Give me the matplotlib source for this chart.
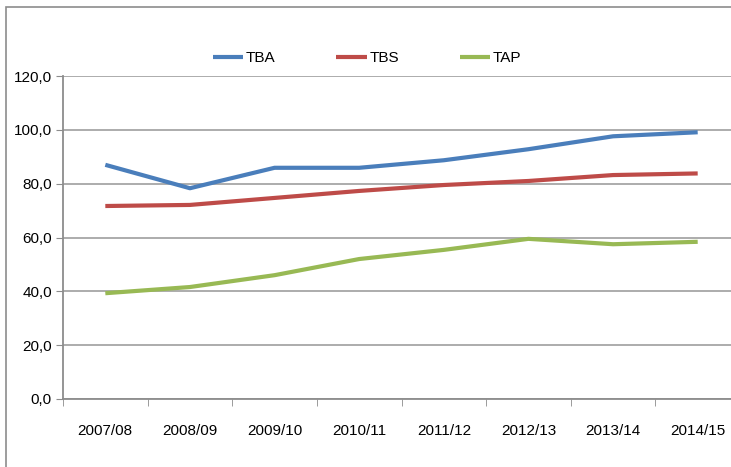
import matplotlib
matplotlib.use('Agg')
import matplotlib.pyplot as plt
from matplotlib.patches import Rectangle

plt.rcParams['font.family'] = ['Liberation Sans', 'DejaVu Sans']
plt.rcParams['font.size'] = 11

# Data
years = ['2007/08', '2008/09', '2009/10', '2010/11', '2011/12', '2012/13', '2013/14', '2014/15']
tba = [87.0, 78.3, 85.9, 85.9, 88.7, 92.8, 97.6, 99.1]
tbs = [71.7, 72.1, 74.7, 77.3, 79.5, 81.0, 83.2, 83.8]
tap = [39.3, 41.6, 46.0, 52.0, 55.4, 59.5, 57.5, 58.4]

W, H = 731, 467
fig = plt.figure(figsize=(W / 100, H / 100), dpi=100)

# plot area: x 63..740 px (cropped at right), y 76..399 px
left, right, top, bottom = 63, 740, 76, 399
ax = fig.add_axes([left / W, 1 - bottom / H, (right - left) / W, (bottom - top) / H])

# outer chart border (only left and top visible in the crop)
fig.patches.append(Rectangle((6 / W, -0.1), 1.2, 1 - 7 / H + 0.1, transform=fig.transFigure,
                             fill=False, edgecolor='#8c8c8c', linewidth=1.2, zorder=0))

x = list(range(len(years)))
ax.plot(x, tba, color='#4a7ebb', lw=3, label='TBA', solid_capstyle='butt')
ax.plot(x, tbs, color='#be4b48', lw=3, label='TBS', solid_capstyle='butt')
ax.plot(x, tap, color='#98b954', lw=3, label='TAP', solid_capstyle='butt')

ax.set_xlim(-0.5, len(years) - 0.5)
ax.set_ylim(0, 120)
ax.set_yticks(range(0, 121, 20))
ax.set_yticklabels([f'{v},0' for v in range(0, 121, 20)])
ax.set_xticks(x)
ax.set_xticklabels(years)
ax.set_xticks([i - 0.5 for i in range(len(years) + 1)], minor=True)

ax.grid(axis='y', color='#a6a6a6', lw=1.3)
ax.set_axisbelow(True)
for s in ['top', 'right']:
    ax.spines[s].set_visible(False)
ax.spines['left'].set_color('#8c8c8c')
ax.spines['bottom'].set_color('#8c8c8c')
ax.spines['left'].set_linewidth(1.3)
ax.spines['bottom'].set_linewidth(1.3)

ax.tick_params(axis='y', length=5, color='#8c8c8c', pad=3, labelsize=11)
ax.tick_params(axis='x', which='major', length=0, pad=18, labelsize=11)
ax.tick_params(axis='x', which='minor', length=5, color='#8c8c8c')

fig.legend(loc='center', bbox_to_anchor=(367 / W, 1 - 58 / H), ncol=3, frameon=False,
           handlelength=2.0, handletextpad=0.15, columnspacing=4.0, fontsize=11)

fig.savefig('out.png', dpi=100)
